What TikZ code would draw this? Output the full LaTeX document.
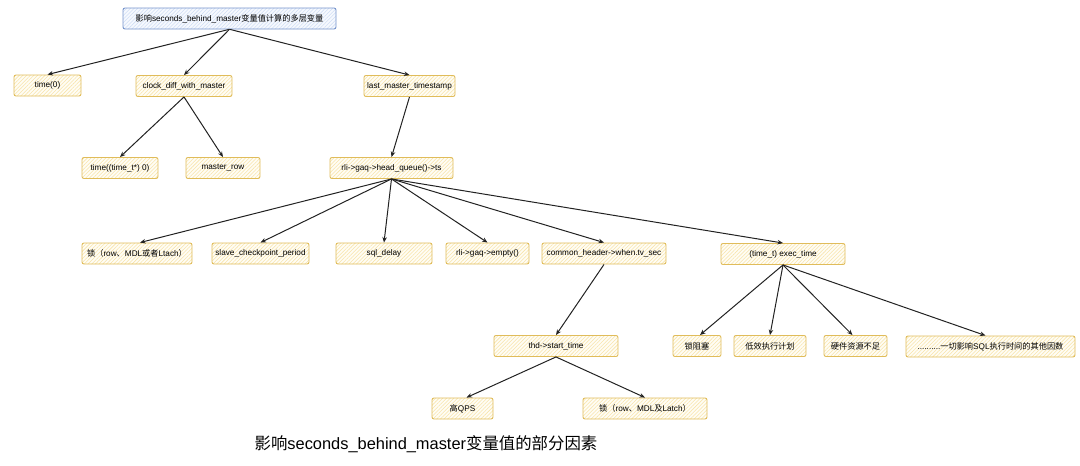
\documentclass[tikz,border=0pt]{standalone}
\usepackage{fontspec}
\setmainfont{Liberation Sans}
\newfontfamily\cjk{Noto Sans CJK SC}
\usetikzlibrary{arrows.meta,patterns.meta}
\definecolor{boxedge}{HTML}{E0BC5A}
\definecolor{boxfill}{HTML}{FFFDF5}
\definecolor{hatch}{HTML}{F8E4AA}
\definecolor{topedge}{HTML}{7694CC}
\definecolor{topfill}{HTML}{F6F9FE}
\definecolor{tophatch}{HTML}{D0DEF5}
\definecolor{arrowc}{HTML}{222222}
\newcommand{\zh}[1]{{\cjk #1}}
\tikzset{
  box/.style={draw=boxedge, line width=0.9pt, rounded corners=2pt,
    minimum height=21pt, inner sep=1pt, text=black,
    font=\fontsize{8.2}{9}\selectfont,
    preaction={fill=boxfill},
    pattern={Lines[angle=45,distance=2.6pt,line width=0.55pt]}, pattern color=hatch},
  topbox/.style={box, draw=topedge, pattern color=tophatch, preaction={fill=topfill}},
  conn/.style={draw=arrowc, line width=1pt, -{Stealth[length=5.5pt,width=4.5pt]}}
}
\begin{document}
\begin{tikzpicture}[x=1pt,y=-1pt]
\useasboundingbox (0,0) rectangle (1080,466);
% nodes
\node[topbox, minimum width=213pt] (top) at (229.5,18.5) {\zh{影响}seconds\_behind\_master\zh{变量值计算的多层变量}};
\node[box, minimum width=67pt] (t0) at (47.5,85.5) {time(0)};
\node[box, minimum width=96pt] (clock) at (184,86) {clock\_diff\_with\_master};
\node[box, minimum width=91pt] (last) at (409.5,86) {last\_master\_timestamp};
\node[box, minimum width=76pt] (tt) at (120,168) {time((time\_t*) 0)};
\node[box, minimum width=74pt] (mrow) at (223,168) {master\_row};
\node[box, minimum width=123pt] (head) at (391.5,168) {rli->gaq->head\_queue()->ts};
\node[box, minimum width=110pt] (lock1) at (137,253.5) {\zh{锁（}row\zh{、}MDL\zh{或者}Ltach\zh{）}};
\node[box, minimum width=97pt] (slave) at (260.5,253.5) {slave\_checkpoint\_period};
\node[box, minimum width=96pt] (sqld) at (384,253.5) {sql\_delay};
\node[box, minimum width=83pt] (empty) at (487.5,253.5) {rli->gaq->empty()};
\node[box, minimum width=124pt] (common) at (604,253.5) {common\_header->when.tv\_sec};
\node[box, minimum width=124pt] (exec) at (783,254) {(time\_t) exec\_time};
\node[box, minimum width=124pt] (thd) at (556,346) {thd->start\_time};
\node[box, minimum width=61pt] (qps) at (462.5,408.5) {\zh{高}QPS};
\node[box, minimum width=124pt] (lock2) at (645,408.5) {\zh{锁（}row\zh{、}MDL\zh{及}Latch\zh{）}};
\node[box, minimum width=48pt] (lockb) at (697,346) {\zh{锁阻塞}};
\node[box, minimum width=72pt] (plan) at (770,346) {\zh{低效执行计划}};
\node[box, minimum width=63pt] (hw) at (855.5,346) {\zh{硬件资源不足}};
\node[box, minimum width=169pt] (other) at (990.5,346.5) {..........\zh{一切影响}SQL\zh{执行时间的其他因数}};
\node[font=\fontsize{16.4}{19}\selectfont] (cap) at (426,444) {\zh{影响}seconds\_behind\_master\zh{变量值的部分因素}};
% connectors
\draw[conn] (top.south) -- (t0.north);
\draw[conn] (top.south) -- (clock.north);
\draw[conn] (top.south) -- (last.north);
\draw[conn] (clock.south) -- (tt.north);
\draw[conn] (clock.south) -- (mrow.north);
\draw[conn] (last.south) -- (head.north);
\draw[conn] (head.south) -- ([xshift=3pt]lock1.north);
\draw[conn] (head.south) -- (slave.north);
\draw[conn] (head.south) -- (sqld.north);
\draw[conn] (head.south) -- (empty.north);
\draw[conn] (head.south) -- (common.north);
\draw[conn] (head.south) -- (exec.north);
\draw[conn] (common.south) -- (thd.north);
\draw[conn] (thd.south) -- ([xshift=4pt]qps.north);
\draw[conn] (thd.south) -- (lock2.north);
\draw[conn] (exec.south) -- ([xshift=3pt]lockb.north);
\draw[conn] (exec.south) -- (plan.north);
\draw[conn] (exec.south) -- ([xshift=-3pt]hw.north);
\draw[conn] (exec.south) -- ([xshift=-5pt]other.north);
\end{tikzpicture}
\end{document}
